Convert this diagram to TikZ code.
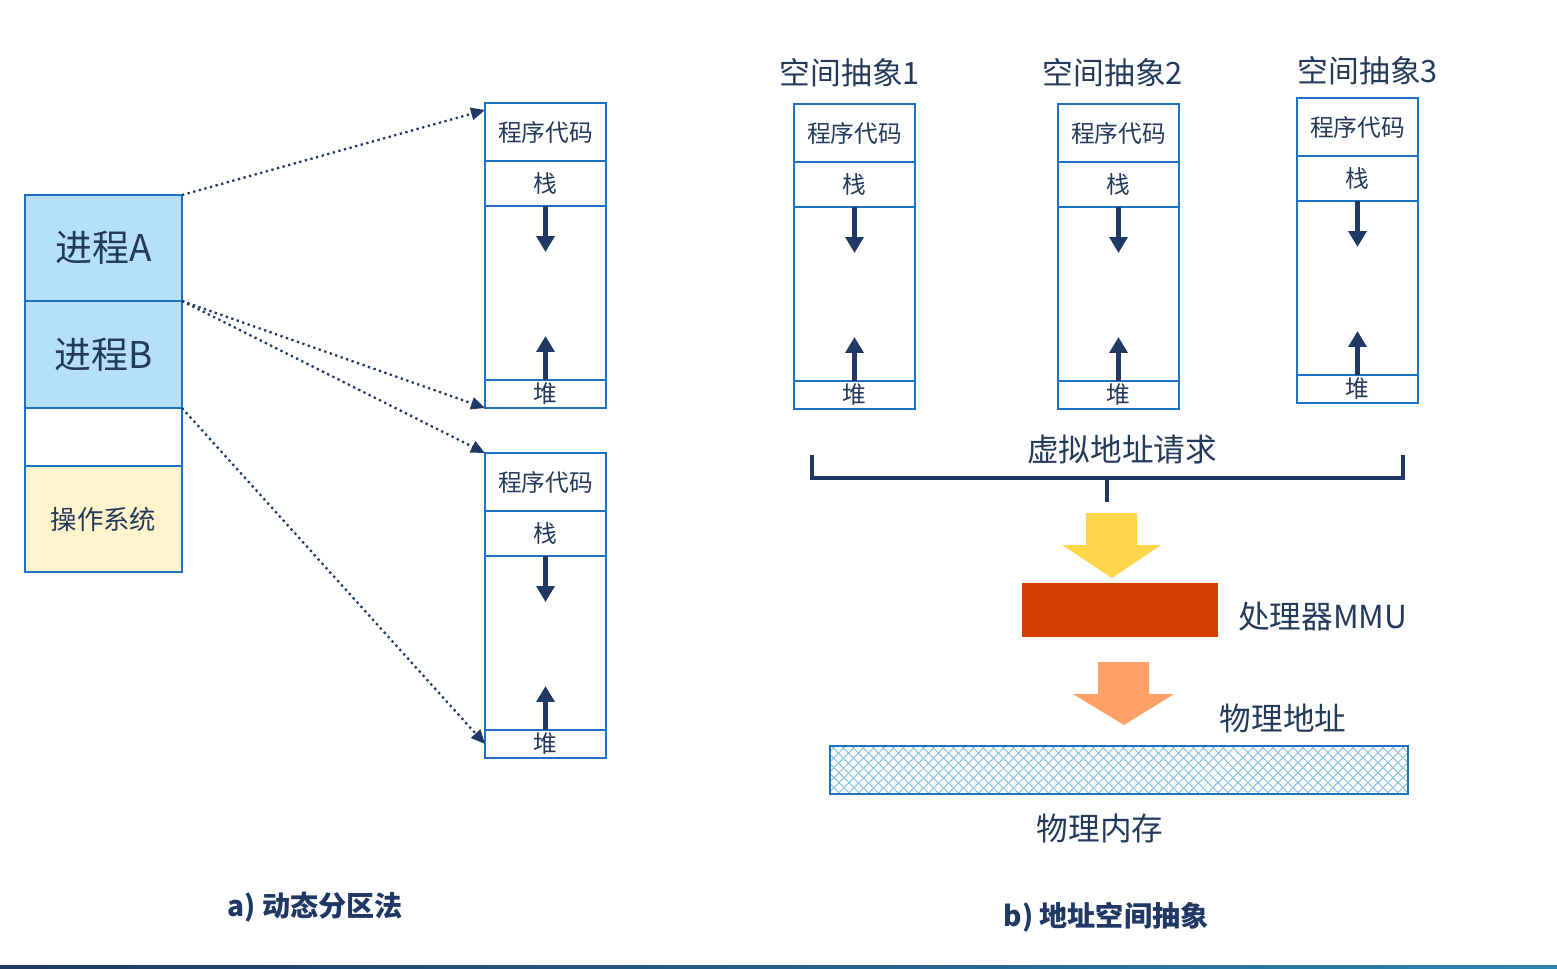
\documentclass[tikz,border=0pt]{standalone}
\usepackage{fontspec}
\setmainfont{Noto Sans CJK SC}
\usepackage{tikz}
\usetikzlibrary{arrows.meta,positioning,patterns.meta}

\definecolor{navy}{HTML}{1F3864}
\definecolor{ink}{HTML}{233A5A}
\definecolor{memblue}{HTML}{1E72C4}
\definecolor{procblue}{HTML}{B6DFFA}
\definecolor{osyellow}{HTML}{FFF4CE}
\definecolor{mmured}{HTML}{D33F00}
\definecolor{yarrow}{HTML}{FFD54A}
\definecolor{oarrow}{HTML}{FFA066}
\definecolor{hatch}{HTML}{8CC4E6}
\definecolor{teal}{HTML}{2A86AE}

\begin{document}
\begin{tikzpicture}[x=0.2mm,y=-0.2mm,
    cell/.style={draw=memblue,line width=0.5mm,outer sep=0pt,inner sep=0pt,text=ink,
      minimum width=24.2mm,font=\fontsize{13.5}{15}\selectfont},
    proc/.style={cell,minimum width=31.4mm,font=\fontsize{21}{24}\selectfont},
    link/.style={dotted,line width=1.3pt,draw=navy,-{Triangle[length=8pt,width=7pt]}},
    growth/.style={line width=3pt,draw=navy,-{Triangle[length=9pt,width=10pt]}},
    brace/.style={line width=0.8mm,draw=navy},
    txt/.style={text=ink,font=\fontsize{18}{21}\selectfont},
    title/.style={text=ink,font=\fontsize{17.5}{21}\selectfont},
    caption/.style={text=navy,font=\fontsize{16}{19}\selectfont\bfseries}]

  \useasboundingbox (0,0) rectangle (1557,968);

  % a) physical memory with the processes
  \node[proc,fill=procblue,minimum height=21.2mm,anchor=north west] (pa) at (25,195) {进程A};
  \node[proc,fill=procblue,minimum height=21.4mm,below=0pt of pa] (pb) {进程B};
  \node[proc,minimum height=11.6mm,below=0pt of pb] (gap) {};
  \node[proc,fill=osyellow,minimum height=21.2mm,below=0pt of gap,
    font=\fontsize{15}{18}\selectfont] (os) {操作系统};

  % address spaces
  \foreach \n/\x/\y in {p/485/103, q/485/453, s1/794/104, s2/1058/104, s3/1297/98} {
    \node[cell,minimum height=11.6mm,anchor=north west] (\n-code) at (\x,\y) {程序代码};
    \node[cell,minimum height=9mm,below=0pt of \n-code] (\n-stk) {栈};
    \node[cell,minimum height=34.8mm,below=0pt of \n-stk] (\n-free) {};
    \node[cell,minimum height=5.6mm,below=0pt of \n-free] (\n-heap) {堆};
    \draw[growth] (\n-free.north) -- ++(0,46);
    \draw[growth] (\n-heap.north) -- ++(0,-44);
  }

  \draw[link] (pa.north east) -- ([yshift=-1.4mm]p-code.north west);
  \draw[link] (pb.north east) -- (p-heap.south west);
  \draw[link] (pb.north east) -- (q-code.north west);
  \draw[link] (gap.north east) -- (q-heap.west);

  % b) address space abstraction
  \node[title] (t1) at (850,73) {空间抽象1};
  \node[title] (t2) at (1113,73) {空间抽象2};
  \node[title] (t3) at (1368,71) {空间抽象3};

  \coordinate (bl) at (812,455);
  \coordinate (br) at (1403,455);
  \coordinate (stem) at (1107,478);
  \draw[brace] (bl) -- ++(0,23) -| (br);
  \draw[brace] (stem) -- ++(0,24);
  \node[txt] (req) at (1122,450) {虚拟地址请求};

  \fill[yarrow] (1086,513) -- (1137,513) -- (1137,545) -- (1161,545) -- (1112,578)
    -- (1062,545) -- (1086,545) -- cycle;
  \node[fill=mmured,minimum width=39.2mm,minimum height=10.8mm,inner sep=0pt] (mmu) at (1120,610) {};
  \node[txt,anchor=west] (mmulbl) at (1232,617) {处理器MMU};
  \fill[oarrow] (1098,662) -- (1149,662) -- (1149,694) -- (1174,694) -- (1124,725)
    -- (1073,694) -- (1098,694) -- cycle;
  \node[txt] (paddr) at (1283,718) {物理地址};

  \node[minimum width=115.6mm,minimum height=9.6mm,inner sep=0pt,pattern color=hatch,
    pattern={Lines[angle=45,distance=4pt,line width=0.6pt]},
    postaction={pattern color=hatch,pattern={Lines[angle=-45,distance=4pt,line width=0.6pt]}},
    postaction={draw=memblue,line width=0.5mm}] (mem) at (1119,770) {};
  \node[txt] (memlbl) at (1100,828) {物理内存};

  \node[caption] (capa) at (315,907) {a) 动态分区法};
  \node[caption] (capb) at (1106,917) {b) 地址空间抽象};

  \shade[left color=navy,right color=teal] (0,965) rectangle (1557,968);
\end{tikzpicture}
\end{document}
